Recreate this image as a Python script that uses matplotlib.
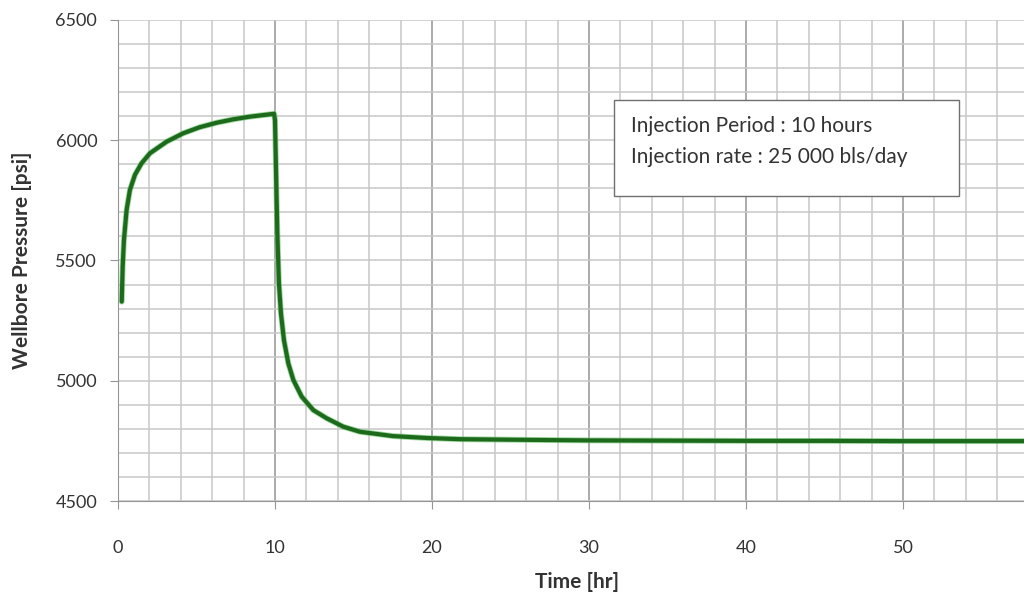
import matplotlib.pyplot as plt
import matplotlib.patheffects as pe
from matplotlib.patches import Rectangle
from matplotlib.ticker import MultipleLocator

# Wellbore pressure (time in hr, pressure in psi)
time_hr = [0.24, 0.30, 0.38, 0.55, 0.76, 1.08, 1.50, 2.04, 3.1, 4.16, 5.2, 6.3, 7.35,
           8.4, 9.94, 10.0, 10.06, 10.15, 10.25, 10.38, 10.57, 10.85, 11.17, 11.7,
           12.44, 13.29, 14.35, 15.4, 17.5, 19.66, 21.8, 26.4, 30.0, 35.0, 40.0, 45.0,
           50.0, 58.0]
pressure_psi = [5329, 5474, 5585, 5710, 5793, 5856, 5904, 5946, 5994, 6029, 6054, 6073,
                6087, 6098, 6110, 6084, 5890, 5613, 5405, 5280, 5169, 5072, 5003, 4934,
                4878, 4844, 4809, 4788, 4770, 4762, 4757, 4754, 4752, 4751, 4750, 4750,
                4749, 4749]

x_ticks = [0, 10, 20, 30, 40, 50]
y_ticks = [4500, 5000, 5500, 6000, 6500]
note_lines = ["Injection Period : 10 hours", "Injection rate : 25 000 bls/day"]

plt.rcParams['font.family'] = ['Lato', 'DejaVu Sans']

fig = plt.figure(figsize=(10.24, 5.98), dpi=100)
ax = fig.add_axes([0.1152, 0.1622, 0.8848, 0.8044])

ax.set_xlim(0, 57.7)
ax.set_ylim(4500, 6500)

# grid: minor every 2 hr / 100 psi, darker major verticals every 10 hr
ax.xaxis.set_minor_locator(MultipleLocator(2))
ax.yaxis.set_minor_locator(MultipleLocator(100))
ax.set_xticks(x_ticks)
ax.set_yticks(y_ticks)
ax.grid(which='minor', color='#c8c8c8', linewidth=1.1)
ax.grid(which='major', axis='y', color='#c8c8c8', linewidth=1.1)
ax.grid(which='major', axis='x', color='#959595', linewidth=1.1)
ax.set_axisbelow(True)

ax.plot(time_hr, pressure_psi, color='#1d6a1d', linewidth=3, solid_joinstyle='round',
        solid_capstyle='round',
        path_effects=[pe.Stroke(linewidth=4.2, foreground='#5fbf5f', alpha=0.6), pe.Normal()])

for side in ['top', 'right']:
    ax.spines[side].set_visible(False)
for side in ['left', 'bottom']:
    ax.spines[side].set_color('#959595')

ax.tick_params(axis='both', which='major', direction='out', length=6, color='#959595',
               labelsize=13, labelcolor='#333333')
ax.tick_params(axis='both', which='minor', length=0)
ax.tick_params(axis='x', which='major', pad=22)
ax.tick_params(axis='y', which='major', pad=9)

ax.set_xlabel("Time [hr]", fontsize=15, fontweight='bold', color='#333333')
ax.xaxis.set_label_coords(0.507, -0.148)
ax.set_ylabel("Wellbore Pressure [psi]", fontsize=15, fontweight='bold', color='#333333')
ax.yaxis.set_label_coords(-0.095, 0.5)

# annotation box
ax.add_patch(Rectangle((0.547, 0.634), 0.381, 0.2, transform=ax.transAxes,
                       facecolor='white', edgecolor='#707070', linewidth=1.0, zorder=5))
ax.text(0.566, 0.780, note_lines[0], transform=ax.transAxes, fontsize=15,
        color='#333333', va='center', ha='left', zorder=6)
ax.text(0.566, 0.715, note_lines[1], transform=ax.transAxes, fontsize=15,
        color='#333333', va='center', ha='left', zorder=6)

fig.savefig("out.png", dpi=100, facecolor='white')
